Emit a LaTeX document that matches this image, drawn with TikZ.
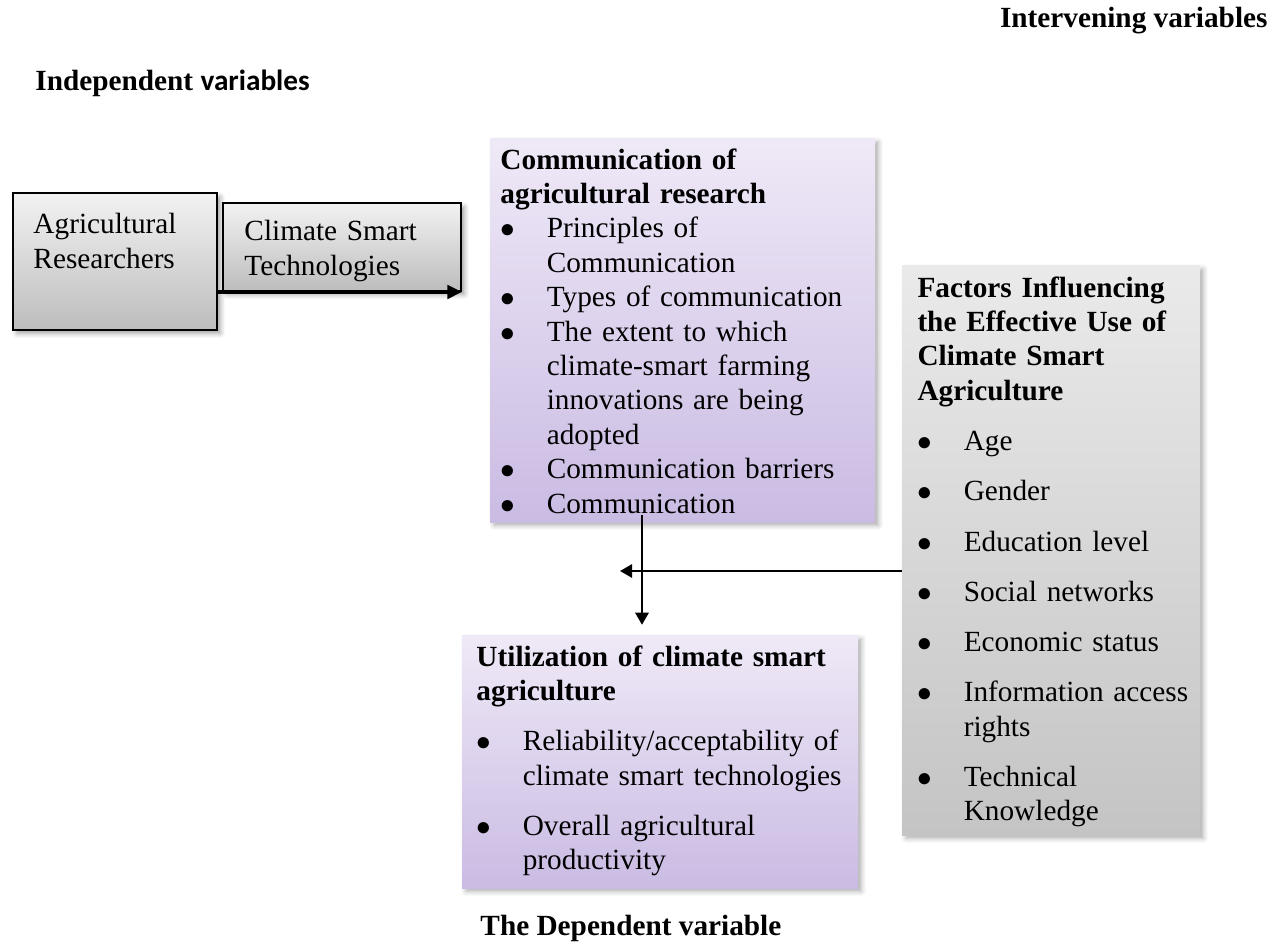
\documentclass[tikz,border=0pt]{standalone}
\usepackage{fontspec}
\setmainfont{Liberation Serif}
\newfontfamily\calibri{Carlito}
\usetikzlibrary{arrows.meta,fit,shadows.blur}

\definecolor{lilactop}{RGB}{239,233,247}
\definecolor{lilacbot}{RGB}{202,187,227}
\definecolor{facttop}{RGB}{234,234,234}
\definecolor{factbot}{RGB}{196,196,196}

\newcommand{\twelve}{\fontsize{12pt}{14.1pt}\selectfont}
\newcommand{\bul}[1]{\par\noindent\hangindent=19pt\hangafter=1\makebox[19pt][l]{$\bullet$}#1}

\begin{document}
\begin{tikzpicture}[x=0.41pt,y=-0.41pt,
    every node/.style={font=\twelve},
    txt/.style={inner sep=0pt,anchor=north west,align=left,text width=#1},
    lbl/.style={inner sep=0pt,font=\twelve\bfseries},
    greybox/.style={draw=black,line width=0.8pt,inner sep=0pt,top color=gray!10,bottom color=gray!52,
        blur shadow={shadow xshift=1.5pt,shadow yshift=-1.5pt,shadow opacity=35}},
    lilac/.style={inner sep=0pt,top color=lilactop,bottom color=lilacbot,
        blur shadow={shadow xshift=1.5pt,shadow yshift=-1.5pt,shadow opacity=30}},
    factbox/.style={inner sep=0pt,top color=facttop,bottom color=factbot,
        blur shadow={shadow xshift=1.5pt,shadow yshift=-1.5pt,shadow opacity=30}},
    arr/.style={-{Triangle[length=5pt,width=5.5pt]},line width=0.9pt},
    bigarr/.style={-{Triangle[length=6pt,width=5.5pt]},line width=1.6pt}]
  \useasboundingbox (0,0) rectangle (1282,943);

  \node[lbl,anchor=east] (interv) at (1268,21) {Intervening variables};
  \node[lbl,anchor=west] (indep) at (35,83) {Independent {\calibri variables}};

  \node[greybox,fit={(13,193) (217,330)}] (agri) {};
  \node[txt=80pt] (agritxt) at (33,213) {Agricultural\\Researchers\par};
  \node[greybox,fit={(223,203) (461,291)}] (tech) {};
  \node[txt=90pt] (techtxt) at (244,220) {Climate Smart\\Technologies\par};

  \node[lilac,fit={(490,138) (875,522)}] (comm) {};
  \node[txt=165pt] (commtxt) at (500,148) {\textbf{Communication of}\\\textbf{agricultural research}
    \bul{Principles of\newline Communication}
    \bul{Types of communication}
    \bul{The extent to which\newline climate-smart farming\newline innovations are being\newline adopted}
    \bul{Communication barriers}
    \bul{Communication}\par};

  \node[factbox,fit={(902,265) (1200,835)}] (factors) {};
  \node[txt=111pt] (facttxt) at (917,276) {\setlength\parskip{6.5pt}%
    \textbf{Factors Influencing}\\\textbf{the Effective Use of}\\\textbf{Climate Smart}\\\textbf{Agriculture}
    \bul{Age}
    \bul{Gender}
    \bul{Education level}
    \bul{Social networks}
    \bul{Economic status}
    \bul{Information\hfill access\newline rights}
    \bul{Technical\newline Knowledge}\par};

  \node[lilac,fit={(462,635) (858,888)}] (util) {};
  \node[txt=170pt] (utiltxt) at (476,645) {\setlength\parskip{6.5pt}%
    \textbf{Utilization of climate smart}\\\textbf{agriculture}
    \bul{Reliability/acceptability of\newline climate smart technologies}
    \bul{Overall agricultural\newline productivity}\par};

  \node[lbl,anchor=west] (depend) at (480,928) {The Dependent variable};

  \coordinate (split) at (642,571);
  \coordinate (hend) at (620,571);
  \draw[bigarr] (agri.east |- tech.south) -- (tech.south east);
  \draw[arr] ([yshift=3pt]comm.south -| split) -- ([yshift=4pt]util.north -| split);
  \draw[arr] (factors.west |- split) -- (hend);
\end{tikzpicture}
\end{document}
